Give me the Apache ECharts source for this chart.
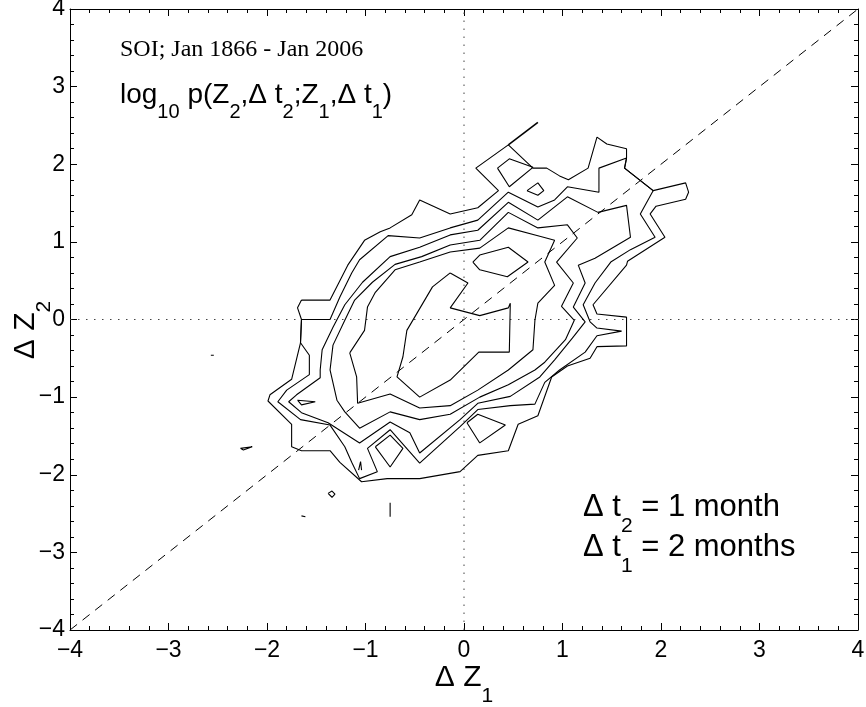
<!DOCTYPE html>
<html>
<head>
<meta charset="utf-8">
<script src="https://cdn.jsdelivr.net/npm/echarts@6/dist/echarts.min.js"></script>
<style>
html, body { margin: 0; padding: 0; background: #fff; }
#chart { width: 866px; height: 707px; }
</style>
</head>
<body>
<div id="chart"></div>
<script>
// contour rings of log10 p, outermost first (data units)
const level1 = [[-1.65,0.25],[-1.36,0.25],[-1.18,0.70],[-1.01,1.02],[-0.85,1.13],[-0.75,1.18],[-0.53,1.35],[-0.45,1.54],[-0.14,1.36],[0.14,1.44],[0.35,1.66],[0.12,1.95],[0.45,2.25],[0.70,1.95],[0.84,1.95],[0.97,1.85],[1.06,1.80],[1.26,1.95],[1.35,2.35],[1.45,2.26],[1.65,2.20],[1.65,2.08],[1.63,1.95],[1.92,1.66],[2.25,1.76],[2.28,1.64],[2.25,1.55],[1.95,1.46],[1.89,1.36],[2.04,1.06],[1.66,0.75],[1.65,0.70],[1.31,0.19],[1.35,0.07],[1.65,0.03],[1.65,-0.34],[1.35,-0.35],[1.28,-0.50],[1.05,-0.60],[0.89,-0.74],[0.75,-1.24],[0.55,-1.35],[0.45,-1.69],[0.14,-1.75],[-0.04,-1.96],[-0.45,-2.05],[-0.78,-2.05],[-1.04,-2.09],[-1.26,-1.84],[-1.36,-1.69],[-1.65,-1.69],[-1.75,-1.64],[-1.75,-1.35],[-1.99,-1.05],[-1.97,-0.97],[-1.75,-0.77],[-1.66,-0.30],[-1.65,0],[-1.69,0.15],[-1.65,0.25]];
const level2 = [[-1.65,0],[-1.36,0],[-1.26,0.29],[-1.14,0.60],[-1.06,0.77],[-0.77,1.08],[-0.45,1.05],[-0.14,1.18],[0.14,1.28],[0.45,1.64],[0.75,1.45],[0.92,1.54],[1.05,1.71],[1.37,1.64],[1.37,1.95],[1.65,2.08],[1.63,1.95],[1.92,1.66],[1.79,1.36],[1.94,1.06],[1.69,0.90],[1.49,0.74],[1.33,0.47],[1.21,0.19],[1.28,-0.03],[1.35,-0.11],[1.60,-0.15],[1.35,-0.21],[1.23,-0.42],[0.97,-0.65],[0.82,-0.81],[0.72,-1.09],[0.47,-1.11],[0.14,-1.16],[-0.04,-1.38],[-0.45,-1.85],[-0.75,-1.42],[-0.98,-1.66],[-0.88,-1.96],[-1.06,-2.05],[-1.14,-1.84],[-1.21,-1.64],[-1.36,-1.36],[-1.66,-1.29],[-1.89,-1.06],[-1.80,-0.91],[-1.57,-0.71],[-1.57,-0.46],[-1.66,-0.30],[-1.65,0]];
const level3 = [[-1.46,-0.65],[-1.44,-0.39],[-1.33,-0.10],[-1.21,0.19],[-1.03,0.48],[-0.75,0.81],[-0.45,0.93],[-0.14,1.09],[0.14,1.15],[0.45,1.51],[0.75,1.28],[1.05,1.58],[1.36,1.38],[1.65,1.47],[1.69,1.06],[1.33,0.79],[1.16,0.70],[1.23,0.47],[1.11,0.16],[1.23,-0.03],[1.10,-0.24],[0.92,-0.52],[0.77,-0.74],[0.47,-0.99],[0.14,-1.08],[-0.04,-1.29],[-0.45,-1.72],[-0.55,-1.46],[-0.75,-1.32],[-1.06,-1.59],[-1.38,-1.33],[-1.65,-1.20],[-1.78,-1.06],[-1.70,-0.97],[-1.46,-0.75],[-1.46,-0.65]];
const level4 = [[-1.36,-0.65],[-1.33,-0.33],[-1.21,-0.01],[-1.11,0.25],[-0.93,0.48],[-0.70,0.71],[-0.43,0.81],[-0.14,0.96],[0.16,1.02],[0.45,1.38],[0.75,1.18],[1.05,1.22],[1.15,1.05],[0.94,0.74],[1.11,0.47],[0.99,0.17],[1.12,-0.01],[1.03,-0.26],[0.82,-0.55],[0.72,-0.65],[0.45,-0.84],[0.16,-1.00],[-0.14,-1.22],[-0.45,-1.29],[-0.75,-1.19],[-1.06,-1.40],[-1.21,-1.19],[-1.29,-1.04],[-1.36,-0.65]];
const level5 = [[-1.16,-0.43],[-1.09,-0.74],[-1.08,-1.08],[-0.75,-0.96],[-0.45,-1.14],[-0.14,-1.11],[0.14,-0.91],[0.45,-0.65],[0.70,-0.39],[0.72,-0.01],[0.75,0.21],[0.92,0.44],[0.82,0.74],[0.92,1.02],[0.75,1.08],[0.45,1.18],[0.16,0.92],[-0.14,0.87],[-0.45,0.74],[-0.70,0.64],[-0.90,0.35],[-0.98,0.16],[-1.01,-0.14],[-1.16,-0.43]];
const level6 = [[-0.14,0.60],[0.04,0.47],[-0.14,0.15],[0.16,0.05],[0.45,0.15],[0.47,0.21],[0.46,-0.42],[0.15,-0.42],[-0.14,-0.78],[-0.45,-1.00],[-0.68,-0.74],[-0.62,-0.48],[-0.58,-0.14],[-0.32,0.42],[-0.14,0.60]];

// small closed islands and stray bits
const islandHex = [[0.09,0.74],[0.16,0.64],[0.44,0.55],[0.65,0.74],[0.45,0.93],[0.16,0.83],[0.09,0.74]];
const islandTopA = [[0.34,1.95],[0.46,2.07],[0.70,1.96],[0.46,1.71],[0.34,1.95]];
const islandTopB = [[0.64,1.66],[0.75,1.76],[0.81,1.66],[0.75,1.60],[0.64,1.66]];
const islandLeft = [[-1.69,-1.04],[-1.51,-1.06],[-1.65,-1.10],[-1.69,-1.04]];
const islandLowA = [[-0.90,-1.64],[-0.75,-1.49],[-0.62,-1.66],[-0.75,-1.90],[-0.90,-1.64]];
const islandLowB = [[0.03,-1.33],[0.14,-1.22],[0.42,-1.36],[0.16,-1.59],[0.03,-1.33]];
const needle = [[-1.07,-1.94],[-1.05,-1.83],[-1.04,-1.94]];
const strays = [
    [[-2.27,-1.66],[-2.15,-1.64],[-2.24,-1.68],[-2.27,-1.66]],
    [[-1.38,-2.24],[-1.34,-2.21],[-1.31,-2.25],[-1.34,-2.29],[-1.38,-2.24]],
    [[-1.65,-2.53],[-1.61,-2.54]],
    [[-0.75,-2.36],[-0.75,-2.54]],
    [[-2.57,-0.46],[-2.54,-0.46]],
    [[0.45,2.25],[0.75,2.54]]
];

const diagonal = [[-4,-4],[4,4]];
const zeroV = [[0,-4],[0,4]];
const zeroH = [[-4,0],[4,0]];

const font = 'Liberation Sans';
const chart = echarts.init(document.getElementById('chart'));

let minus = v => v < 0 ? '\u2212' + Math.abs(v) : String(v);

let contour = (data, width) => ({
    type: 'line',
    data: data,
    symbol: 'none',
    silent: true,
    animation: false,
    z: 3,
    lineStyle: { color: '#000', width: width || 1.1 }
});

let guide = (data, dash, color) => ({
    type: 'line',
    data: data,
    symbol: 'none',
    silent: true,
    animation: false,
    z: 2,
    lineStyle: { color: color, width: 1, type: dash }
});

let axisBase = {
    type: 'value',
    min: -4,
    max: 4,
    interval: 1,
    splitLine: { show: false },
    axisLine: { show: true, onZero: false, lineStyle: { color: '#000', width: 1 } },
    axisTick: { show: true, inside: true, length: 7, lineStyle: { color: '#000' } },
    minorTick: { show: true, splitNumber: 5, length: 4, lineStyle: { color: '#000' } }
};

let subRich = (big, small, drop) => ({
    a: { fontSize: big, fontFamily: font, fill: '#000', color: '#000', lineHeight: big + 4 },
    s: { fontSize: small, fontFamily: font, fill: '#000', color: '#000', lineHeight: small, padding: [drop, 0, 0, 0] }
});

let option = {
    backgroundColor: '#fff',
    animation: false,
    grid: { left: 70, right: 8, top: 9, bottom: 77, containLabel: false, outerBoundsMode: 'none' },
    xAxis: [
        Object.assign({}, axisBase, {
            position: 'bottom',
            axisLabel: { margin: 9, fontSize: 23, color: '#000', fontFamily: font, formatter: minus },
            name: '{a|\u0394 Z}{s|1}',
            nameLocation: 'middle',
            nameGap: 31,
            nameMoveOverlap: false,
            nameTextStyle: { rich: subRich(30, 21, 36) }
        }),
        Object.assign({}, axisBase, { position: 'top', axisLabel: { show: false } })
    ],
    yAxis: [
        Object.assign({}, axisBase, {
            position: 'left',
            axisLabel: { margin: 5, fontSize: 23, color: '#000', fontFamily: font, formatter: minus }
        }),
        Object.assign({}, axisBase, { position: 'right', axisLabel: { show: false } })
    ],
    graphic: [
        {
            // y axis title, turned to read upwards
            type: 'text', x: 26, y: 330, rotation: Math.PI / 2,
            style: { text: '{a|\u0394 Z}{s|2}', rich: subRich(30, 21, 36), align: 'center', verticalAlign: 'middle' }
        },
        {
            type: 'text', left: 120, top: 38,
            style: { text: 'SOI; Jan 1866 - Jan 2006', font: '24px "Liberation Serif"', fill: '#000' }
        },
        {
            type: 'text', left: 120, top: 69,
            style: {
                text: '{a|log}{s|10}{a| p(Z}{s|2}{a|,\u0394 t}{s|2}{a|;Z}{s|1}{a|,\u0394 t}{s|1}{a|)}',
                rich: subRich(28, 20, 33)
            }
        },
        {
            type: 'text', left: 583, top: 478,
            style: { text: '{a|\u0394 t}{s|2}{a| = 1 month}', rich: subRich(31, 21, 38) }
        },
        {
            type: 'text', left: 583, top: 518,
            style: { text: '{a|\u0394 t}{s|1}{a| = 2 months}', rich: subRich(31, 21, 38) }
        }
    ],
    series: [
        guide(zeroV, [1.5, 6.5], '#444'),
        guide(zeroH, [1.5, 6.5], '#444'),
        guide(diagonal, [9, 7], '#000'),
        contour(level1),
        contour(level2),
        contour(level3),
        contour(level4),
        contour(level5),
        contour(level6),
        contour(islandHex),
        contour(islandTopA),
        contour(islandTopB),
        contour(islandLeft),
        contour(islandLowA),
        contour(islandLowB),
        contour(needle)
    ].concat(strays.map((s, i) => contour(s, i === strays.length - 1 ? 1.6 : 1.1)))
};

chart.setOption(option);
</script>
</body>
</html>
